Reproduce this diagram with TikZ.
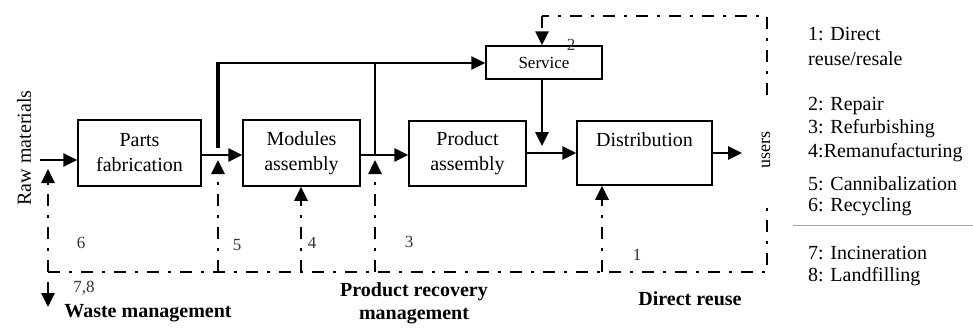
\documentclass[tikz,border=0pt]{standalone}
\usepackage{fontspec}
\setmainfont{Liberation Serif}
\usetikzlibrary{arrows.meta}
\begin{document}
\begin{tikzpicture}[x=1pt,y=-1pt,
  box/.style={draw, line width=1.5pt, align=center, font=\fontsize{20}{25}\selectfont, inner sep=0pt},
  flow/.style={line width=2.8pt, -{Triangle[length=14pt,width=13pt]}},
  link/.style={line width=2.8pt},
  ret/.style={line width=2.6pt, dash pattern=on 12pt off 9pt on 3pt off 9pt},
  retarrow/.style={ret, -{Triangle[length=14pt,width=13pt]}},
  num/.style={font=\fontsize{17}{19}\selectfont, text=black!80},
  bold/.style={font=\fontsize{20}{24}\selectfont\bfseries, align=center},
  legend/.style={font=\fontsize{20}{24}\selectfont, anchor=west, inner sep=0pt}]
\useasboundingbox (0,0) rectangle (973,327);

% process chain
\node[box, minimum width=123, minimum height=66] (pf) at (139.5,153) {Parts\\fabrication};
\node[box, minimum width=117, minimum height=66] (ma) at (301.5,153) {Modules\\assembly};
\node[box, minimum width=117, minimum height=65] (pa) at (467.5,153.5) {Product\\assembly};
\node[box, minimum width=135, minimum height=64] (di) at (644.5,153) {Distribution\\[2pt]\mbox{}};
\node[box, minimum width=116, minimum height=33, font=\fontsize{17}{20}\selectfont] (sv) at (544,62.5) {Service};

\node[rotate=90, font=\fontsize{20}{24}\selectfont] (raw) at (24,148) {Raw materials};
\node[rotate=90, font=\fontsize{18}{22}\selectfont] (us) at (766,150) {users};

% junctions and free ends
\coordinate (rawin) at (40,160);
\coordinate (j1) at (218,155);
\coordinate (j1top) at (218,63);
\coordinate (j2) at (375,155);
\coordinate (j2top) at (375,63);
\coordinate (svdown) at (542,146);
\coordinate (out) at (742,153);

% forward flows
\draw[flow] (rawin) -- (pf.west |- rawin);
\draw[flow] (pf.east |- j1) -- (ma.west |- j1);
\draw[flow] (ma.east |- j2) -- (pa.west |- j2);
\draw[flow] (pa.east |- di) -- (di.west);
\draw[flow] (di.east) -- (out);
\draw[line width=4.5pt] (218,148) -- (218,61.6);
\draw[link] (j1top) -- (j2top);
\draw[flow] (j2top) -- (sv.west |- j2top);
\draw[link] (j2top) -- (j2);
\draw[flow] (sv.south -| svdown) -- (svdown);

% recovery loops
\coordinate (b0) at (48,272);
\coordinate (b1) at (218,272);
\coordinate (b2) at (301,272);
\coordinate (b3) at (375,272);
\coordinate (b4) at (602,272);
\coordinate (br) at (767,272);
\coordinate (rlow) at (767,205);
\coordinate (rhigh) at (767,95);
\coordinate (tr) at (767,16);
\coordinate (tl) at (542,16);

\draw[ret] (b0) -- (br) -- (rlow);
\draw[ret] (rhigh) -- (tr) -- (tl);
\draw[retarrow] (tl) -- (sv.north -| tl);
\draw[retarrow] (b0) -- (48,169);
\draw[retarrow] (b1) -- (218,160);
\draw[retarrow] (b2) -- (ma.south -| b2);
\draw[retarrow] (b3) -- (375,160);
\draw[retarrow] (b4) -- (di.south -| b4);
\draw[flow] (48,282) -- (48,307);

% option numbers
\node[num] (n6) at (81,243) {6};
\node[num] (n5) at (237,245) {5};
\node[num] (n4) at (312,243) {4};
\node[num] (n3) at (409,242) {3};
\node[num] (n1) at (637,255) {1};
\node[num] (n2) at (571,45) {2};
\node[num] (n78) at (84,288) {7,8};

% management areas
\node[bold] (wm) at (148,313) {Waste management};
\node[bold, font=\fontsize{20}{23}\selectfont\bfseries] (prm) at (414,303) {Product recovery\\management};
\node[bold] (dr) at (690,299) {Direct reuse};

% legend
\node[legend] (l1) at (808,34) {1: Direct};
\node[legend] (l1b) at (808,59) {reuse/resale};
\node[legend] (l2) at (808,106) {2: Repair};
\node[legend] (l3) at (808,129) {3: Refurbishing};
\node[legend] (l4) at (808,153) {4:Remanufacturing};
\node[legend] (l5) at (808,184) {5: Cannibalization};
\node[legend] (l6) at (808,207) {6: Recycling};
\draw[black!35, line width=0.8pt] (793,225) -- (973,225);
\node[legend] (l7) at (808,253) {7: Incineration};
\node[legend] (l8) at (808,277) {8: Landfilling};
\end{tikzpicture}
\end{document}
